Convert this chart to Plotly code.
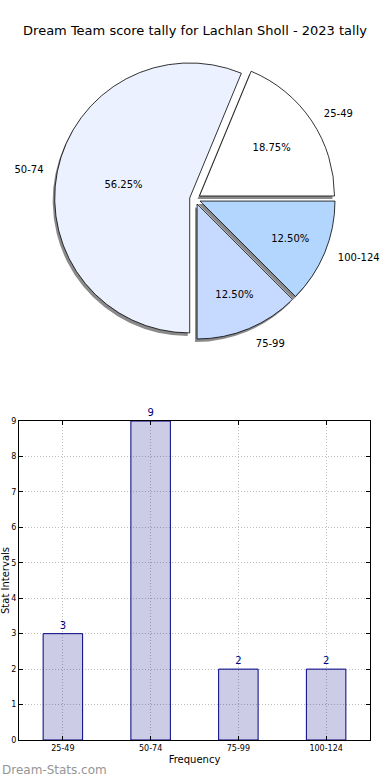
import plotly.graph_objects as go

title = "Dream Team score tally for Lachlan Sholl - 2023 tally"
categories = ["25-49", "50-74", "75-99", "100-124"]
counts = [3, 9, 2, 2]
pie_colors = ["#ffffff", "#ebf1fe", "#c6d9fe", "#b3d6fe"]
y_ticks = list(range(0, 10))

W, H = 390, 780
pull = 0.04
cx, cy, R = 195, 199, 135
# first slice starts at 3 o'clock and runs counterclockwise (plotly measures
# rotation of the *end* of the first slice when direction is counterclockwise)
rotation = 90 - 360 * counts[0] / sum(counts)

def dom(dx=0, dy=0, r=R):
    half = r * (1 + pull)
    return dict(x=[(cx + dx - half) / W, (cx + dx + half) / W],
                y=[(H - (cy + dy) - half) / H, (H - (cy + dy) + half) / H])

fig = go.Figure()

# shadow
fig.add_trace(go.Pie(
    labels=categories, values=counts, sort=False, direction="counterclockwise",
    rotation=rotation, pull=[pull] * 4, domain=dom(-2, 3),
    marker=dict(colors=["rgba(60,60,60,0.6)"] * 4, line=dict(width=0)),
    textinfo="none", hoverinfo="skip", showlegend=False))

# main pie with percentages inside
fig.add_trace(go.Pie(
    labels=categories, values=counts, sort=False, direction="counterclockwise",
    rotation=rotation, pull=[pull] * 4, domain=dom(),
    marker=dict(colors=pie_colors, line=dict(color="black", width=0.8)),
    texttemplate="%{percent:.2%}", textposition="inside",
    insidetextorientation="horizontal",
    textfont=dict(family="DejaVu Sans", size=10, color="black"),
    showlegend=False))

# transparent, slightly larger overlay carrying the labels outside
fig.add_trace(go.Pie(
    labels=categories, values=counts, sort=False, direction="counterclockwise",
    rotation=rotation, pull=[pull] * 4, domain=dom(r=R * 1.08),
    marker=dict(colors=["rgba(0,0,0,0)"] * 4, line=dict(width=0)),
    texttemplate="%{label}", textposition="outside",
    outsidetextfont=dict(family="DejaVu Sans", size=10, color="black"),
    hoverinfo="skip", showlegend=False))

# bar chart
fig.add_trace(go.Bar(
    x=categories, y=counts, width=0.45, xaxis="x", yaxis="y",
    marker=dict(color="rgba(0,0,128,0.2)", line=dict(color="#000080", width=1)),
    text=[str(c) for c in counts], textposition="outside", cliponaxis=False,
    textfont=dict(family="DejaVu Sans", size=10, color="#000080"),
    showlegend=False))

axis_common = dict(showline=True, linecolor="black", linewidth=1, mirror="ticks",
                   ticks="inside", ticklen=4, tickcolor="black",
                   showgrid=True, gridcolor="#c0c0c0", griddash="1px,2px", gridwidth=1,
                   zeroline=False, automargin=False,
                   tickfont=dict(family="DejaVu Sans", size=8, color="black"))

fig.update_layout(
    width=W, height=H, margin=dict(l=0, r=0, t=0, b=0, autoexpand=False),
    paper_bgcolor="white", plot_bgcolor="white",
    font=dict(family="DejaVu Sans", color="black"),
    title=dict(text=title, x=0.5, xanchor="center", xref="paper",
               y=1 - 30 / H, yanchor="middle", yref="container",
               font=dict(family="DejaVu Sans", size=13, color="black")),
    xaxis=dict(domain=[19 / W, 370 / W], anchor="y", type="category",
               range=[-0.5, 3.5],
               title=dict(text="Frequency", standoff=4,
                          font=dict(family="DejaVu Sans", size=10, color="black")),
               **axis_common),
    yaxis=dict(domain=[(H - 740) / H, (H - 421) / H], anchor="x",
               range=[0, 9], tickvals=y_ticks,
               title=dict(text="Stat Intervals", standoff=2,
                          font=dict(family="DejaVu Sans", size=10, color="black")),
               **axis_common),
    bargap=0.55,
    annotations=[dict(text="Dream-Stats.com", xref="paper", yref="paper",
                      x=0, y=(H - 770) / H, xanchor="left", yanchor="middle",
                      showarrow=False,
                      font=dict(family="DejaVu Sans", size=12, color="#959595"))],
)

fig.write_html("out.html", config={"displayModeBar": False},
               post_script="document.body.style.margin='0';document.body.style.overflow='hidden';")
